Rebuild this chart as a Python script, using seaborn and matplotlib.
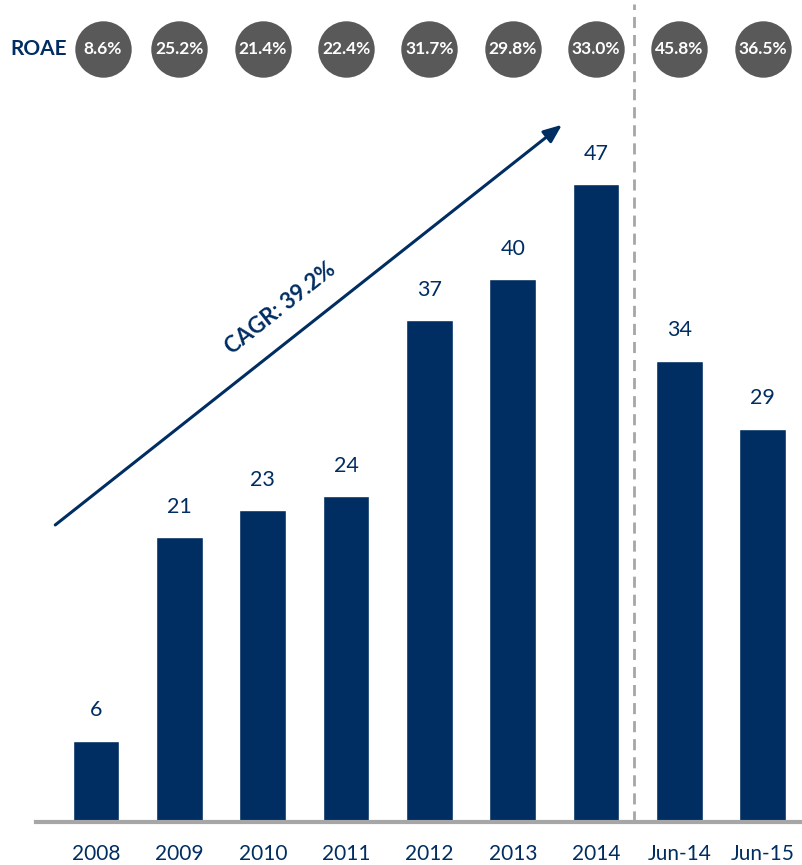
import seaborn as sns
import pandas as pd
import matplotlib.pyplot as plt

# Data
periods = ['2008', '2009', '2010', '2011', '2012', '2013', '2014', 'Jun-14', 'Jun-15']
values = [6, 21, 23, 24, 37, 40, 47, 34, 29]
roae = ['8.6%', '25.2%', '21.4%', '22.4%', '31.7%', '29.8%', '33.0%', '45.8%', '36.5%']
cagr_label = 'CAGR: 39.2%'

navy = '#002D62'
grey = '#A6A6A6'
circle_grey = '#595959'

df = pd.DataFrame({'period': periods, 'value': values})

sns.set_style('white')
plt.rcParams['font.family'] = ['Lato', 'DejaVu Sans']

fig = plt.figure(figsize=(8.02, 8.65), dpi=100)
ax = fig.add_axes([0.045, 0.0497, 0.955, 0.9503])

sns.barplot(data=df, x='period', y='value', color=navy, width=0.56,
            saturation=1, ax=ax)

ax.set_xlim(-0.72, 8.47)
ax.set_ylim(0, 60.6)

# value labels above bars
for i, v in enumerate(values):
    ax.text(i, v + 1.5, str(v), ha='center', va='bottom', fontsize=15.5, color=navy)

# ROAE circles across the top (slightly shifted right like the original)
roae_y = 57.0
xs = [i + 0.08 if i == 0 else i for i in range(len(roae))]
ax.scatter(xs, [roae_y] * len(roae), s=1650, color=circle_grey,
           zorder=3, clip_on=False, linewidths=0)
for x, r in zip(xs, roae):
    ax.text(x, roae_y, r, ha='center', va='center', fontsize=12.5,
            fontweight='bold', color='white', zorder=4)
ax.text(-1.03, roae_y, 'ROAE', ha='left', va='center', fontsize=15,
        fontweight='bold', color=navy)

# separator between full years and half-year figures
ax.axvline(6.45, ymin=0, ymax=0.995, color=grey, linestyle=(0, (4, 2.5)), lw=2)

# CAGR arrow
ax.annotate('', xy=(5.59, 51.4), xytext=(-0.49, 21.9),
            arrowprops=dict(arrowstyle='-|>,head_length=1.1,head_width=0.45',
                            color=navy, lw=2.2, shrinkA=0, shrinkB=0))
ax.text(2.21, 37.9, cagr_label, rotation=38.3, ha='center', va='center',
        fontsize=16, fontweight='bold', color=navy, rotation_mode='anchor')

sns.despine(ax=ax, left=True)
ax.spines['bottom'].set_color(grey)
ax.spines['bottom'].set_linewidth(3)
ax.set_yticks([])
ax.set_xlabel('')
ax.set_ylabel('')
ax.tick_params(axis='x', length=0, labelsize=15, labelcolor=navy, pad=16)

fig.savefig('out.png', dpi=100)
